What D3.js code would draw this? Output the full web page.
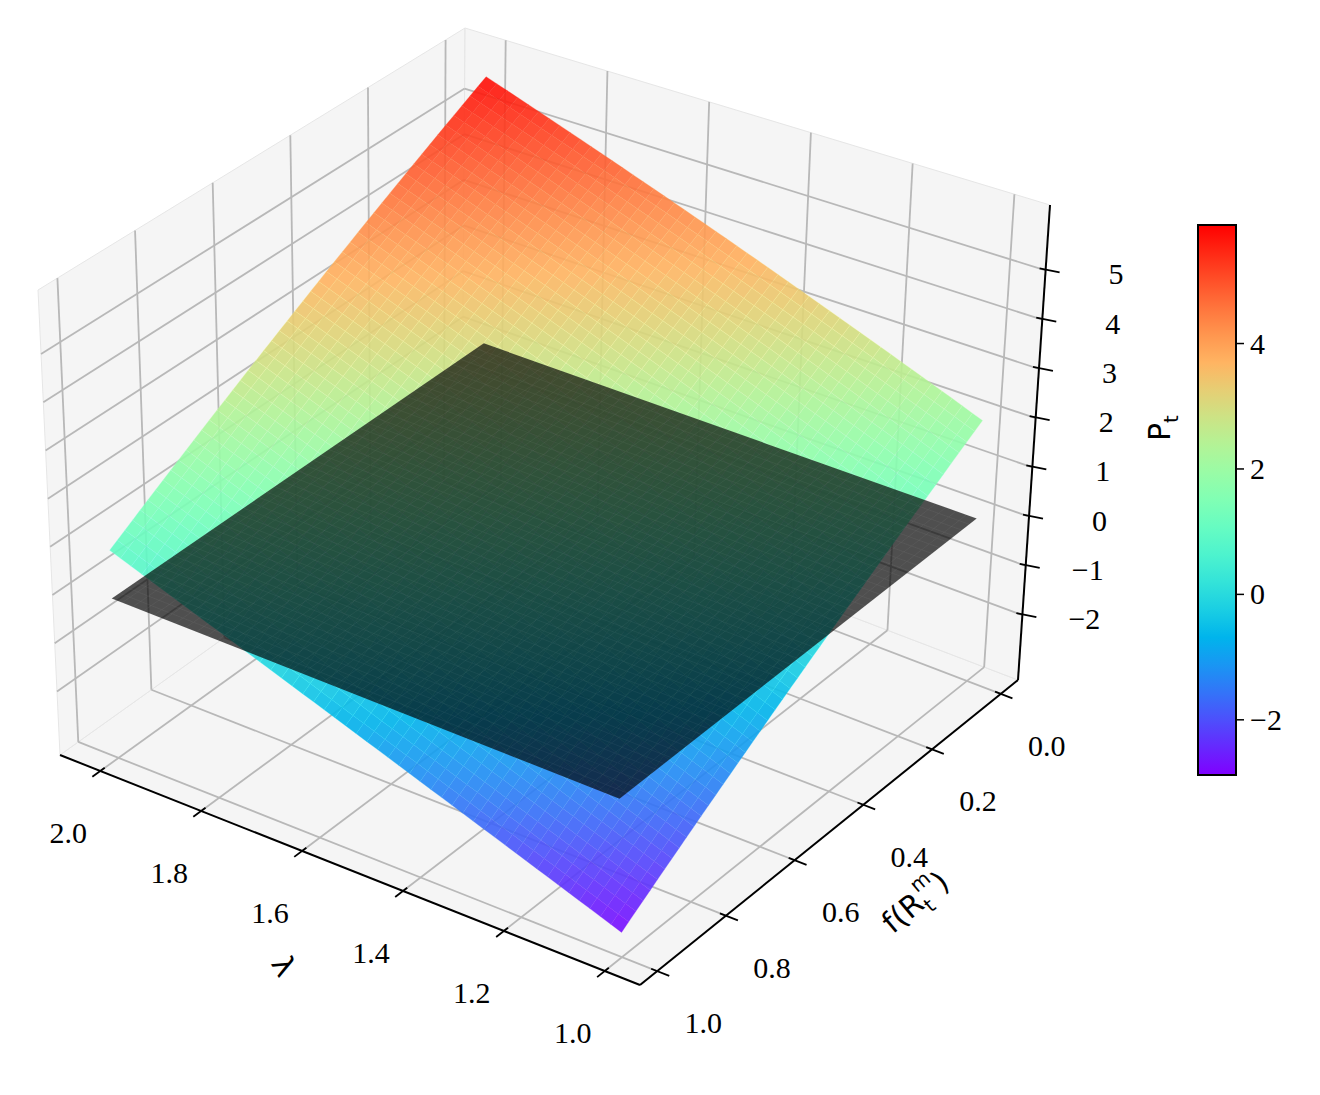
<!DOCTYPE html>
<html><head><meta charset="utf-8">
<script src="https://cdn.jsdelivr.net/npm/d3@7"></script>
<style>body{margin:0;background:#fff}</style></head>
<body><svg id="c" width="1320" height="1095"></svg>
<script>
// ---- data ----
const lambdaVals = [1.0, 1.25, 1.5, 1.75, 2.0];
const fVals = [0.0, 0.25, 0.5, 0.75, 1.0];
// Pt[i][j] : i over fVals, j over lambdaVals
const Pt = [
  [2.0, 2.95, 3.9, 4.85, 5.8],
  [0.8, 1.75, 2.7, 3.65, 4.6],
  [-0.4, 0.55, 1.5, 2.45, 3.4],
  [-1.6, -0.65, 0.3, 1.25, 2.2],
  [-2.8, -1.85, -0.9, 0.05, 1.0]
];
const planeZ = 0;
const lambdaTicks = [1.0, 1.2, 1.4, 1.6, 1.8, 2.0];
const fTicks = [0.0, 0.2, 0.4, 0.6, 0.8, 1.0];
const zTicks = [-2, -1, 0, 1, 2, 3, 4, 5];
const cbTicks = [-2, 0, 2, 4];
const cbRange = [-2.88, 5.89];

// ---- projection (box corners in screen space) ----
const C = {
  "000":[1018,680], "010":[640,985], "110":[60,755], "100":[462,468],
  "001":[1050,205], "011":[632,525], "111":[38,290], "101":[465,28]
};
const zmin = cbRange[0] - 0.05*(cbRange[1]-cbRange[0]);
const zmax = cbRange[1] + 0.05*(cbRange[1]-cbRange[0]);
const L0=0.93,L1=2.08,F0=-0.05,F1=1.05;
const su = d3.scaleLinear().domain([L0, L1]).range([0,1]);
const sv = d3.scaleLinear().domain([F0, F1]).range([0,1]);
const sw = d3.scaleLinear().domain([zmin, zmax]).range([0,1]);
function tri(u,v,w){
  let x=0,y=0;
  for (const a of [0,1]) for (const b of [0,1]) for (const c of [0,1]){
    const k=(a?u:1-u)*(b?v:1-v)*(c?w:1-w);
    const p=C[""+a+b+c]; x+=k*p[0]; y+=k*p[1];
  }
  return [x,y];
}
const P = (l,f,z)=>tri(su(l),sv(f),sw(z));

function rainbow(t){
  t=Math.max(0,Math.min(1,t));
  const r=Math.min(1,Math.abs(2*t-0.5)), g=Math.sin(Math.PI*t), b=Math.cos(Math.PI*t/2);
  return d3.rgb(r*255,g*255,b*255);
}
const cnorm = d3.scaleLinear().domain(cbRange).range([0,1]);

const svg=d3.select("#c");
const line=d3.line();
const gridCol="#b8b8b8";

// panes
function pane(pts){ svg.append("path").attr("d",line(pts)+"Z").attr("fill","#f2f2f2").attr("fill-opacity",0.75).attr("stroke","#e6e6e6"); }
pane([P(L0,F0,zmin),P(L1,F0,zmin),P(L1,F1,zmin),P(L0,F1,zmin)]);
pane([P(L1,F0,zmin),P(L1,F1,zmin),P(L1,F1,zmax),P(L1,F0,zmax)]);
pane([P(L0,F0,zmin),P(L1,F0,zmin),P(L1,F0,zmax),P(L0,F0,zmax)]);
function gl(a,b){ svg.append("path").attr("d",line([a,b])).attr("stroke",gridCol).attr("stroke-width",1.8).attr("fill","none"); }
lambdaTicks.forEach(l=>{ gl(P(l,F0,zmin),P(l,F1,zmin)); gl(P(l,F0,zmin),P(l,F0,zmax)); });
fTicks.forEach(f=>{ gl(P(L0,f,zmin),P(L1,f,zmin)); gl(P(L1,f,zmin),P(L1,f,zmax)); });
zTicks.forEach(z=>{ gl(P(L1,F0,z),P(L1,F1,z)); gl(P(L0,F0,z),P(L1,F0,z)); });

// surface
const N=48;
const gs=svg.append("g");
function val(fi,lj){
  const i0=Math.min(Math.floor(fi),fVals.length-2), j0=Math.min(Math.floor(lj),lambdaVals.length-2);
  const a=fi-i0,b=lj-j0;
  return Pt[i0][j0]*(1-a)*(1-b)+Pt[i0+1][j0]*a*(1-b)+Pt[i0][j0+1]*(1-a)*b+Pt[i0+1][j0+1]*a*b;
}
const fIdx=d3.scaleLinear().domain([fVals[0],fVals[fVals.length-1]]).range([0,fVals.length-1]);
const lIdx=d3.scaleLinear().domain([lambdaVals[0],lambdaVals[lambdaVals.length-1]]).range([0,lambdaVals.length-1]);
const cells=[];
for(let i=0;i<N;i++)for(let j=0;j<N;j++){
  const f0=i/N,f1=(i+1)/N,l0=1+j/N,l1=1+(j+1)/N;
  const z=(a,b)=>val(fIdx(a),lIdx(b));
  const zc=(z(f0,l0)+z(f1,l0)+z(f0,l1)+z(f1,l1))/4;
  cells.push({pts:[P(l0,f0,z(f0,l0)),P(l1,f0,z(f0,l1)),P(l1,f1,z(f1,l1)),P(l0,f1,z(f1,l0))],zc});
}
gs.selectAll("path").data(cells).join("path")
  .attr("d",d=>line(d.pts)+"Z").attr("fill",d=>rainbow(cnorm(d.zc)))
  .attr("stroke",d=>rainbow(cnorm(d.zc)).brighter(0.6)).attr("stroke-width",0.5).attr("stroke-opacity",0.5)
  .attr("opacity",0.9);
// dark plane
const gp=svg.append("g");
const pc=[];
for(let i=0;i<N;i++)for(let j=0;j<N;j++){
  const f0=i/N,f1=(i+1)/N,l0=1+j/N,l1=1+(j+1)/N;
  pc.push([P(l0,f0,planeZ),P(l1,f0,planeZ),P(l1,f1,planeZ),P(l0,f1,planeZ)]);
}
gp.append("path").attr("d",line([P(1,0,planeZ),P(2,0,planeZ),P(2,1,planeZ),P(1,1,planeZ)])+"Z")
  .attr("fill","#000").attr("fill-opacity",0.68);
gp.selectAll("path.g").data(pc).join("path").attr("class","g").attr("d",d=>line(d)+"Z")
  .attr("fill","none").attr("stroke","#fff").attr("stroke-opacity",0.05).attr("stroke-width",0.5);

// axes
function ax(a,b,w){ svg.append("path").attr("d",line([a,b])).attr("stroke","#000").attr("stroke-width",w||2).attr("fill","none"); }
ax(P(L0,F1,zmin),P(L1,F1,zmin));
ax(P(L0,F0,zmin),P(L0,F1,zmin));
ax(P(L0,F0,zmin),P(L0,F0,zmax));
const tf="Liberation Serif, Times New Roman, serif";
lambdaTicks.forEach(l=>{
  ax(P(l,F1-0.012,zmin),P(l,F1+0.022,zmin),1.8);
  const p=P(l,F1,zmin);
  svg.append("text").attr("x",p[0]-32).attr("y",p[1]+72).attr("text-anchor","middle")
    .attr("font-family",tf).attr("font-size",30).text(l.toFixed(1));
});
fTicks.forEach(f=>{
  ax(P(L0+0.012,f,zmin),P(L0-0.024,f,zmin),1.8);
  const p=P(L0,f,zmin);
  svg.append("text").attr("x",p[0]+46).attr("y",p[1]+62).attr("text-anchor","middle")
    .attr("font-family",tf).attr("font-size",30).text(f.toFixed(1));
});
zTicks.forEach(z=>{
  const a=P(L0,F0,z); ax([a[0]-6,a[1]-2],[a[0]+14,a[1]+2],1.8);
  svg.append("text").attr("x",a[0]+78).attr("y",a[1]+14).attr("text-anchor","end")
    .attr("font-family",tf).attr("font-size",30).text(String(z).replace("-","\u2212"));
});
const sf="DejaVu Sans, sans-serif";
svg.append("text").attr("transform","translate(284,966) rotate(60)").attr("text-anchor","middle")
  .attr("dominant-baseline","central").attr("font-family",sf).attr("font-size",30).text("λ");
const ft=svg.append("text").attr("transform","translate(922,910) rotate(-40)").attr("text-anchor","middle")
  .attr("font-family",sf).attr("font-size",30);
ft.append("tspan").text("f(R");
ft.append("tspan").attr("font-size",20).attr("dy",8).text("t");
ft.append("tspan").attr("font-size",20).attr("dx",-6).attr("dy",-24).text("m");
ft.append("tspan").attr("dy",16).text(")");
const pt=svg.append("text").attr("transform","translate(1170,428) rotate(-90)").attr("text-anchor","middle")
  .attr("font-family",sf).attr("font-size",30);
pt.append("tspan").text("P");
pt.append("tspan").attr("font-size",20).attr("dy",8).text("t");

// colorbar
const cbX=1198,cbW=38,cbTop=225,cbBot=775;
const cy=d3.scaleLinear().domain(cbRange).range([cbBot,cbTop]);
const defs=svg.append("defs");
const lg=defs.append("linearGradient").attr("id","cb").attr("x1",0).attr("y1",1).attr("x2",0).attr("y2",0);
d3.range(0,1.0001,0.05).forEach(t=>lg.append("stop").attr("offset",t).attr("stop-color",rainbow(t)));
svg.append("rect").attr("x",cbX).attr("y",cbTop).attr("width",cbW).attr("height",cbBot-cbTop)
  .attr("fill","url(#cb)").attr("stroke","#000").attr("stroke-width",2);
cbTicks.forEach(t=>{
  svg.append("line").attr("x1",cbX+cbW).attr("x2",cbX+cbW+8).attr("y1",cy(t)).attr("y2",cy(t)).attr("stroke","#000").attr("stroke-width",1.5);
  svg.append("text").attr("x",cbX+cbW+14).attr("y",cy(t)+10).attr("font-family",tf).attr("font-size",30)
    .text(String(t).replace("-","\u2212"));
});
</script></body></html>
